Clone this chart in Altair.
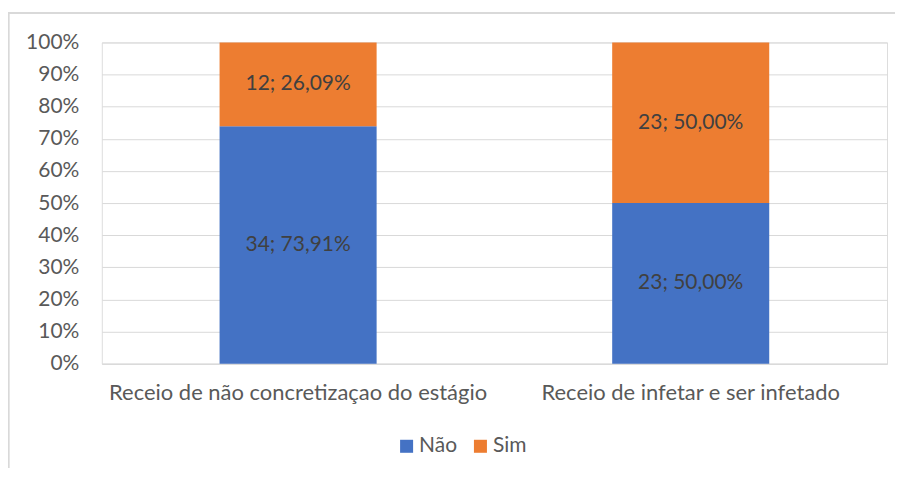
import altair as alt
import pandas as pd

categories = ["Receio de não concretizaçao do estágio", "Receio de infetar e ser infetado"]
series = ["Não", "Sim"]
nao_counts = [34, 23]
sim_counts = [12, 23]
nao_labels = ["34; 73,91%", "23; 50,00%"]
sim_labels = ["12; 26,09%", "23; 50,00%"]
colors = ["#4472C4", "#ED7D31"]
y_ticks = [0, 0.1, 0.2, 0.3, 0.4, 0.5, 0.6, 0.7, 0.8, 0.9, 1.0]

rows = []
for i, c in enumerate(categories):
    rows.append({"cat": c, "serie": "Não", "n": nao_counts[i], "label": nao_labels[i], "ord": 0})
    rows.append({"cat": c, "serie": "Sim", "n": sim_counts[i], "label": sim_labels[i], "ord": 1})
df = pd.DataFrame(rows)

FONT = "Lato"
W, H = 787, 322

base = alt.Chart(df).transform_stack(
    stack="n", groupby=["cat"], as_=["y0", "y1"], offset="normalize",
    sort=[alt.SortField("ord", order="ascending")]
).transform_calculate(mid="(datum.y0 + datum.y1) / 2")

yaxis = alt.Axis(format=".0%", values=y_ticks, labelFont=FONT,
                 labelFontSize=21, labelColor="#595959", labelPadding=23, ticks=False,
                 labelOverlap=False, labelFlush=False,
                 domain=False, grid=True, gridColor="#d9d9d9", gridWidth=1)

xaxis = alt.Axis(labelAngle=0, labelFont=FONT, labelFontSize=22, labelColor="#595959",
                 labelPadding=19, ticks=False, domain=True, domainColor="#d9d9d9",
                 grid=False, labelLimit=600)

xscale = alt.Scale(paddingInner=0.6, paddingOuter=0.3)
yscale = alt.Scale(domain=[0, 1])

bars = base.mark_bar().encode(
    x=alt.X("cat:N", sort=categories, title=None, scale=xscale, axis=xaxis),
    y=alt.Y("y0:Q", title=None, scale=yscale, axis=yaxis),
    y2="y1:Q",
    color=alt.Color("serie:N", sort=series, scale=alt.Scale(domain=series, range=colors),
                    legend=alt.Legend(title=None, orient="none", legendX=295, legendY=394,
                                      direction="horizontal", symbolType="square", symbolSize=170,
                                      symbolStrokeWidth=0, labelFont=FONT, labelFontSize=21,
                                      labelColor="#595959", columnPadding=12, labelOffset=2)),
    order=alt.Order("ord:Q"),
)

texts = base.mark_text(font=FONT, fontSize=21, color="#404040").encode(
    x=alt.X("cat:N", sort=categories, title=None, scale=xscale, axis=xaxis),
    y=alt.Y("mid:Q", title=None, scale=yscale, axis=yaxis),
    text="label:N",
)

frame = alt.Chart(df).mark_rect(fill="transparent", stroke="#d9d9d9", strokeWidth=1.5).encode(
    x=alt.value(-93.5), x2=alt.value(1200), y=alt.value(-29.5), y2=alt.value(1200))

chart = alt.layer(bars, texts, frame).properties(
    width=W, height=H,
    autosize=alt.AutoSizeParams(type="none"),
    padding={"left": 94, "top": 34, "right": 8, "bottom": 104},
).configure_view(stroke=None).configure(background="white")

chart.save("out.html", embed_options={"renderer": "svg", "actions": False})
